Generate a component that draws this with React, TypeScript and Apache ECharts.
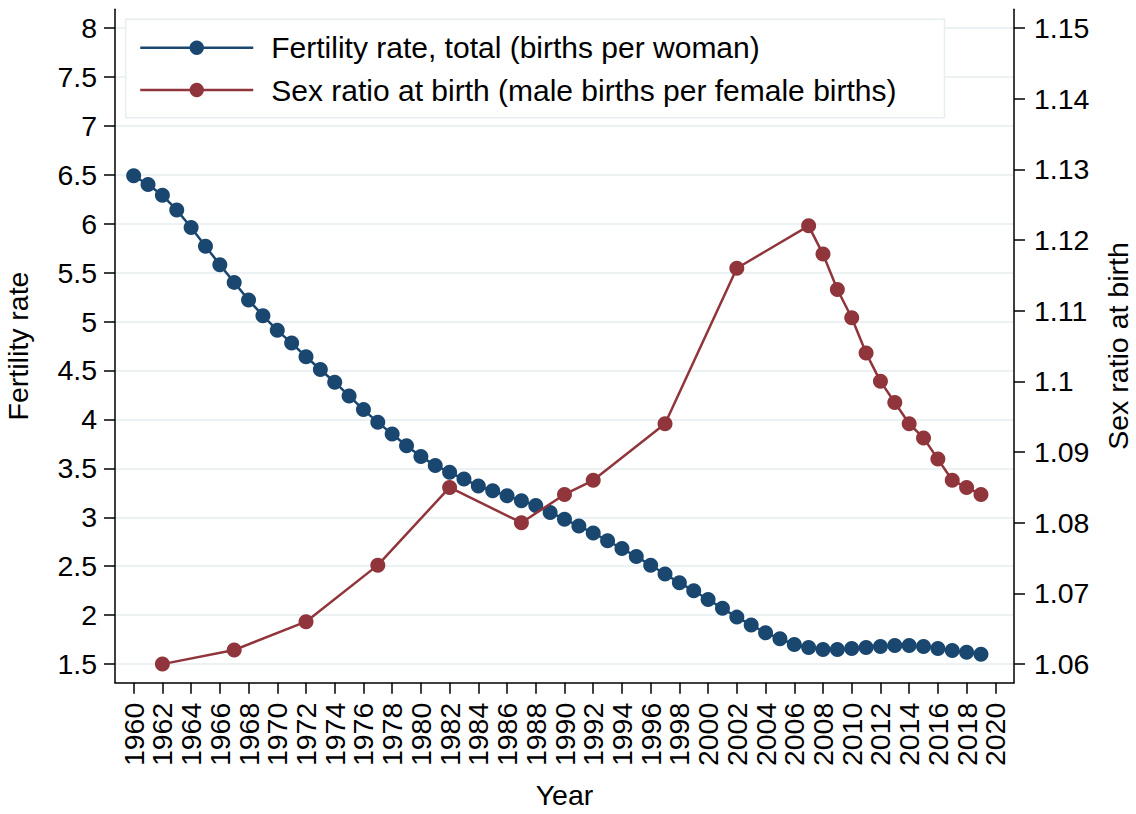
import React, { useEffect, useRef } from 'react';
import * as echarts from 'echarts';

const fertYears = [
  1960, 1961, 1962, 1963, 1964, 1965, 1966, 1967, 1968, 1969,
  1970, 1971, 1972, 1973, 1974, 1975, 1976, 1977, 1978, 1979,
  1980, 1981, 1982, 1983, 1984, 1985, 1986, 1987, 1988, 1989,
  1990, 1991, 1992, 1993, 1994, 1995, 1996, 1997, 1998, 1999,
  2000, 2001, 2002, 2003, 2004, 2005, 2006, 2007, 2008, 2009,
  2010, 2011, 2012, 2013, 2014, 2015, 2016, 2017, 2018, 2019,
];
const fertility = [
  6.49, 6.40, 6.29, 6.14, 5.96, 5.77, 5.58, 5.40, 5.22, 5.06,
  4.91, 4.78, 4.64, 4.51, 4.38, 4.24, 4.10, 3.97, 3.85, 3.73,
  3.62, 3.53, 3.46, 3.39, 3.32, 3.27, 3.22, 3.17, 3.12, 3.05,
  2.98, 2.91, 2.84, 2.76, 2.68, 2.60, 2.51, 2.42, 2.33, 2.25,
  2.16, 2.07, 1.98, 1.90, 1.82, 1.76, 1.70, 1.67, 1.65, 1.65,
  1.66, 1.67, 1.68, 1.69, 1.69, 1.68, 1.66, 1.64, 1.62, 1.60,
];
const sexYears = [
  1962, 1967, 1972, 1977, 1982, 1987, 1990, 1992, 1997, 2002,
  2007, 2008, 2009, 2010, 2011, 2012, 2013, 2014, 2015, 2016,
  2017, 2018, 2019,
];
const sexRatio = [
  1.060, 1.062, 1.066, 1.074, 1.085, 1.080, 1.084, 1.086, 1.094, 1.116,
  1.122, 1.118, 1.113, 1.109, 1.104, 1.100, 1.097, 1.094, 1.092, 1.089,
  1.086, 1.085, 1.084,
];
// Even-year tick labels, split over two overlaid axes so none is auto-hidden
const xTicksA = [
  1960, 1964, 1968, 1972, 1976, 1980, 1984, 1988, 1992, 1996,
  2000, 2004, 2008, 2012, 2016, 2020,
];
const xTicksB = [
  1962, 1966, 1970, 1974, 1978, 1982, 1986, 1990, 1994, 1998,
  2002, 2006, 2010, 2014, 2018,
];
const leftTicks = [1.5, 2, 2.5, 3, 3.5, 4, 4.5, 5, 5.5, 6, 6.5, 7, 7.5, 8];
const rightTicks = [1.06, 1.07, 1.08, 1.09, 1.1, 1.11, 1.12, 1.13, 1.14, 1.15];

const FONT = 'Liberation Sans, Arial, Helvetica, sans-serif';
const BLUE = '#1a476f';
const RED = '#90353b';
const GRIDC = '#e6eef0';

export default function App() {
  const ref = useRef<HTMLDivElement>(null);
  useEffect(() => {
    const chart = echarts.init(ref.current as HTMLDivElement, null, { renderer: 'svg' });
    const axisLine = { show: true, lineStyle: { color: '#000', width: 1.5 } };
    const axisTick = { show: true, length: 11, lineStyle: { color: '#000', width: 1.5 } };
    const xLabel = {
      rotate: 90,
      margin: 20,
      fontSize: 28.5,
      color: '#000',
      fontFamily: FONT,
      hideOverlap: false,
      showMinLabel: true,
      showMaxLabel: true,
      formatter: (v: number) => String(Math.round(v)),
    };
    chart.setOption({
      animation: false,
      backgroundColor: '#fff',
      textStyle: { fontFamily: FONT },
      grid: {
        left: 115,
        right: 122,
        top: 9.3,
        bottom: 131.3,
        containLabel: false,
        outerBoundsMode: 'none',
      },
      legend: {
        show: true,
        orient: 'vertical',
        left: 125.7,
        top: 19.3,
        padding: [13.4, 48, 12.7, 13.3],
        itemWidth: 113,
        itemHeight: 18,
        itemGap: 12.3,
        backgroundColor: '#fff',
        borderColor: GRIDC,
        borderWidth: 1.5,
        borderRadius: 0,
        lineStyle: { width: 2.5 },
        textStyle: { fontSize: 30, color: '#000', fontFamily: FONT, padding: [0, 0, 0, 13], lineHeight: 30 },
        data: [
          'Fertility rate, total (births per woman)',
          'Sex ratio at birth (male births per female births)',
        ],
      },
      xAxis: [
        {
          type: 'value',
          min: 1958.7,
          max: 2021.3,
          position: 'bottom',
          name: 'Year',
          nameLocation: 'middle',
          nameGap: 98,
          nameTextStyle: { fontSize: 28.5, color: '#000', fontFamily: FONT },
          axisLine,
          axisTick: { ...axisTick, customValues: xTicksA },
          axisLabel: { ...xLabel, customValues: xTicksA },
          splitLine: { show: false },
        },
        {
          type: 'value',
          min: 1958.7,
          max: 2021.3,
          position: 'bottom',
          axisLine: { show: false },
          axisTick: { ...axisTick, customValues: xTicksB },
          axisLabel: { ...xLabel, customValues: xTicksB },
          splitLine: { show: false },
        },
      ],
      yAxis: [
        {
          type: 'value',
          position: 'left',
          min: 1.31,
          max: 8.19,
          name: 'Fertility rate',
          nameLocation: 'middle',
          nameGap: 83,
          nameTextStyle: { fontSize: 28.5, color: '#000', fontFamily: FONT },
          axisLine: { ...axisLine, onZero: false },
          axisTick: { ...axisTick, customValues: leftTicks },
          axisLabel: {
            customValues: leftTicks,
            margin: 18,
            fontSize: 28.5,
            color: '#000',
            fontFamily: FONT,
            showMinLabel: true,
            showMaxLabel: true,
            formatter: (v: number) => String(Math.round(v * 10) / 10),
          },
          splitLine: { show: true, lineStyle: { color: GRIDC, width: 1.6 } },
        },
        {
          type: 'value',
          position: 'right',
          min: 1.05737,
          max: 1.15263,
          name: 'Sex ratio at birth',
          nameLocation: 'middle',
          nameGap: 89,
          nameTextStyle: { fontSize: 28.5, color: '#000', fontFamily: FONT },
          axisLine: { ...axisLine, onZero: false },
          axisTick: { ...axisTick, customValues: rightTicks },
          axisLabel: {
            customValues: rightTicks,
            margin: 20,
            fontSize: 28.5,
            color: '#000',
            fontFamily: FONT,
            showMinLabel: true,
            showMaxLabel: true,
            formatter: (v: number) => String(Math.round(v * 100) / 100),
          },
          splitLine: { show: false },
        },
      ],
      series: [
        {
          name: 'Fertility rate, total (births per woman)',
          type: 'line',
          xAxisIndex: 0,
          yAxisIndex: 0,
          data: fertYears.map((y, i) => [y, fertility[i]]),
          symbol: 'circle',
          symbolSize: 15,
          itemStyle: { color: BLUE },
          lineStyle: { color: BLUE, width: 2.5 },
          z: 3,
        },
        {
          name: 'Sex ratio at birth (male births per female births)',
          type: 'line',
          xAxisIndex: 0,
          yAxisIndex: 1,
          data: sexYears.map((y, i) => [y, sexRatio[i]]),
          symbol: 'circle',
          symbolSize: 15,
          itemStyle: { color: RED },
          lineStyle: { color: RED, width: 2.5 },
          z: 4,
        },
      ],
    });
    return () => chart.dispose();
  }, []);
  return (
    <div
      ref={ref}
      style={{ position: 'fixed', left: 0, top: 0, width: 1136, height: 814, background: '#fff' }}
    />
  );
}
